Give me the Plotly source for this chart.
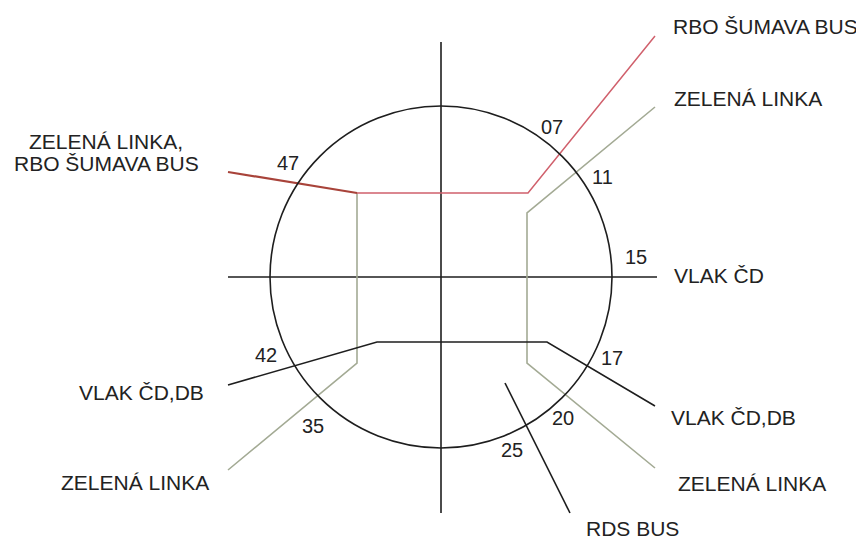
import plotly.graph_objects as go

# Clock-face timetable diagram (coordinates relative to clock centre, px units, y up)
R = 171  # clock radius

# Minute marks (departure minutes) and their label positions
minute_labels = ["07", "11", "15", "17", "20", "25", "35", "42", "47"]
minute_x = [111, 161, 195, 171, 122, 71, -128, -175, -153]
minute_y = [150, 100, 20, -81, -141, -173, -149, -78, 114]

# Route polylines
red_right_x = [-84, 87, 214]
red_right_y = [84, 84, 241]
red_left_x = [-213, -84]
red_left_y = [105, 84]
green_left_x = [-84, -84, -213]
green_left_y = [84, -86, -193]
green_right_x = [214, 86, 86, 214]
green_right_y = [170, 64, -86, -191]
train_db_x = [-213, -64, 106, 214]
train_db_y = [-108, -65, -65, -129]
rds_x = [64, 129]
rds_y = [-106, -236]
vert_x = [0, 0]
vert_y = [235, -236]
horiz_x = [-213, 216]
horiz_y = [0, 0]

# Route labels: text, x, y, anchor
route_texts = ["RBO ŠUMAVA BUS", "ZELENÁ LINKA", "ZELENÁ LINKA,", "RBO ŠUMAVA BUS",
               "VLAK ČD", "VLAK ČD,DB", "VLAK ČD,DB", "ZELENÁ LINKA",
               "ZELENÁ LINKA", "RDS BUS"]
route_x = [231, 232, -335, -335, 232, -236, 229, -231, 236, 144]
route_y = [251, 179, 136, 114, 2, -115, -140, -205, -206, -251]
route_anchor = ["left", "left", "center", "center", "left", "right", "left",
                "right", "left", "left"]

BLACK = "#1e1e1e"
GREEN = "#a3aa94"
RED = "#d0606c"
BROWN = "#a8433a"
TXT = "#222222"
FONT = "Liberation Sans, Arial, sans-serif"

fig = go.Figure()

def line(xs, ys, color, width):
    fig.add_trace(go.Scatter(x=xs, y=ys, mode="lines",
                             line=dict(color=color, width=width),
                             hoverinfo="skip", showlegend=False))

line(vert_x, vert_y, BLACK, 1.6)
line(horiz_x, horiz_y, BLACK, 1.6)
line(green_left_x, green_left_y, GREEN, 1.6)
line(green_right_x, green_right_y, GREEN, 1.6)
line(red_right_x, red_right_y, RED, 1.5)
line(red_left_x, red_left_y, BROWN, 2.2)
line(train_db_x, train_db_y, BLACK, 1.6)
line(rds_x, rds_y, BLACK, 1.6)

fig.add_shape(type="circle", xref="x", yref="y", x0=-R, y0=-R, x1=R, y1=R,
              line=dict(color=BLACK, width=1.6))

for t, x, y in zip(minute_labels, minute_x, minute_y):
    fig.add_annotation(x=x, y=y, text=t, showarrow=False, xanchor="center",
                       yanchor="middle", borderpad=0,
                       font=dict(family=FONT, size=20, color=TXT))

for t, x, y, a in zip(route_texts, route_x, route_y, route_anchor):
    fig.add_annotation(x=x, y=y, text=t, showarrow=False, xanchor=a,
                       yanchor="middle", borderpad=0,
                       font=dict(family=FONT, size=21, color=TXT))

# page body has an 8px margin; ranges offset so the clock centre lands at (441, 277)
fig.update_layout(
    width=864, height=540,
    margin=dict(l=0, r=0, t=0, b=0),
    paper_bgcolor="white", plot_bgcolor="white",
    xaxis=dict(range=[-433, 431], visible=False, fixedrange=True),
    yaxis=dict(range=[-271, 269], visible=False, fixedrange=True),
)

fig.write_html("out.html")
